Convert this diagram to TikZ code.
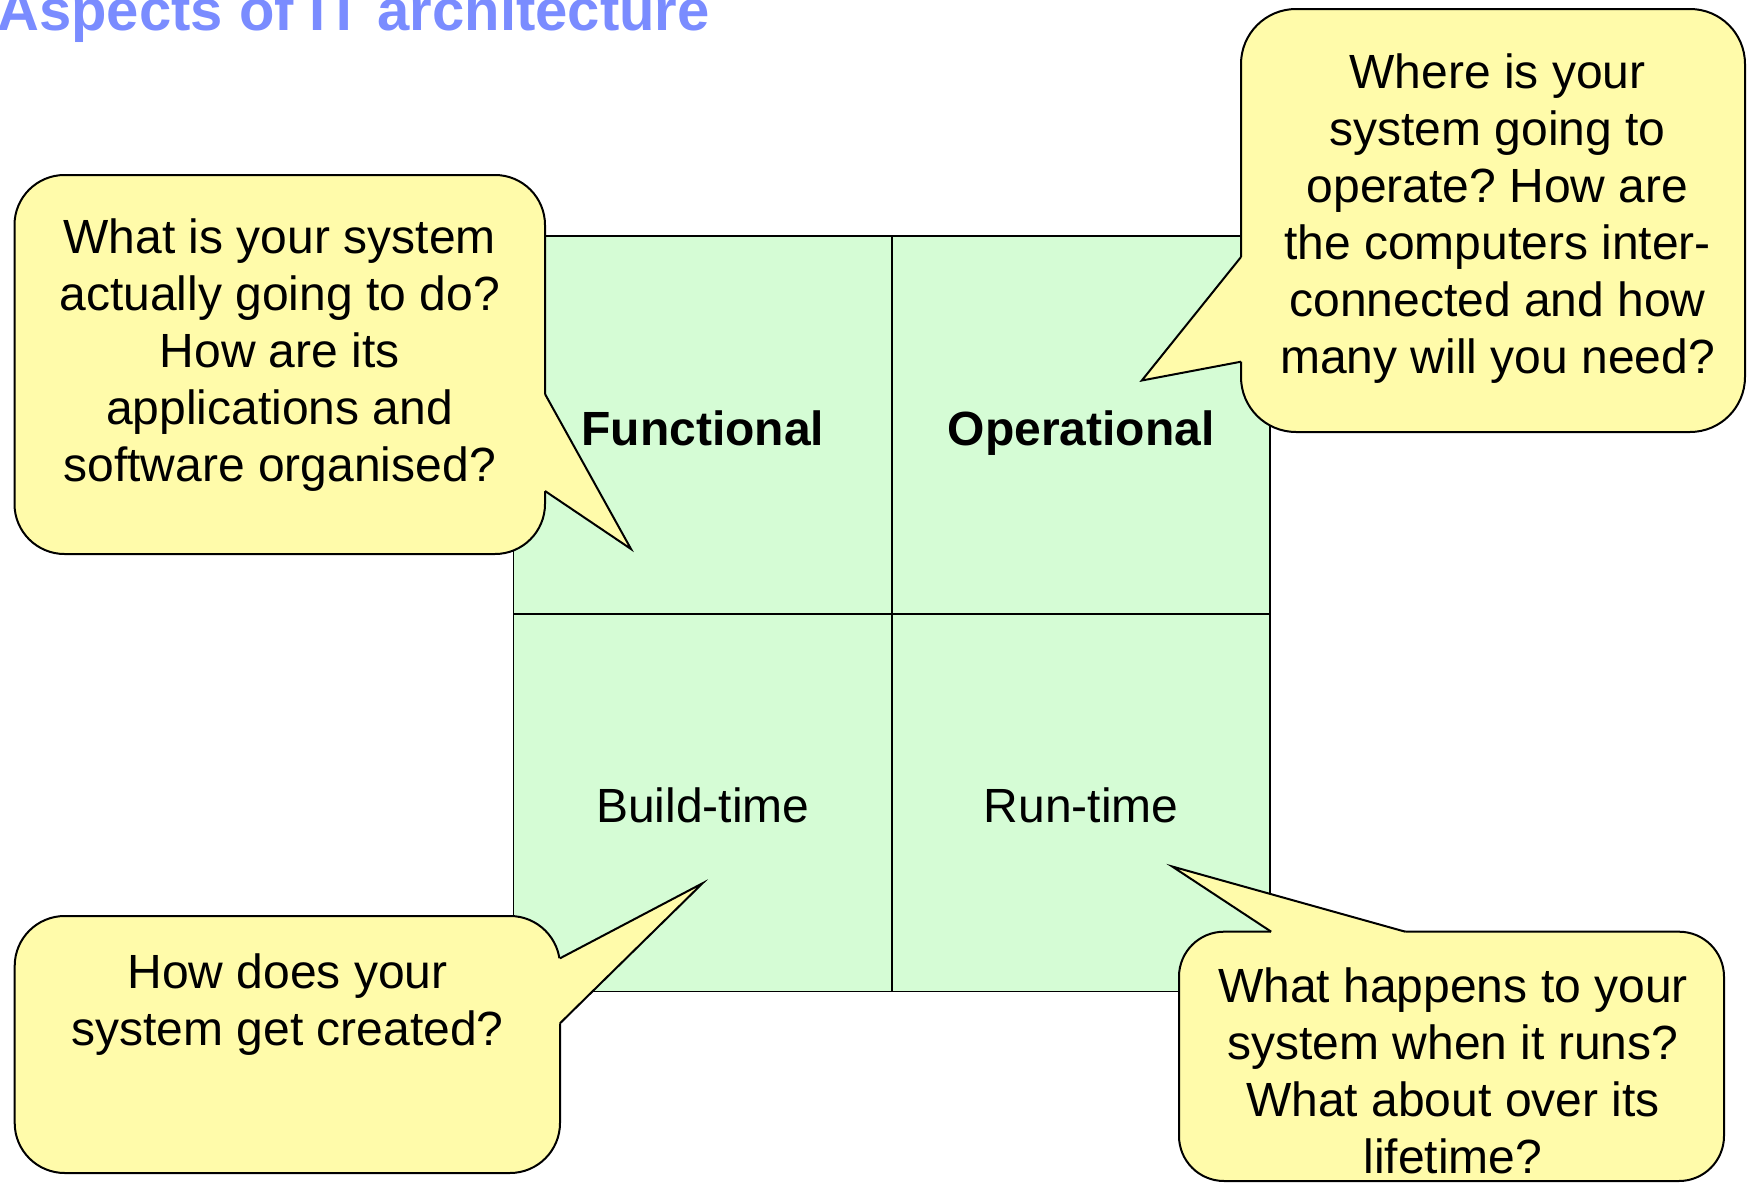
\documentclass[tikz,border=0pt]{standalone}
\usepackage{fontspec}
\setmainfont{Liberation Sans}
\definecolor{calloutfill}{RGB}{255,251,170}
\definecolor{cellfill}{RGB}{213,252,213}
\definecolor{titleblue}{RGB}{122,140,255}
\begin{document}
\frenchspacing
\begin{tikzpicture}[x=0.5pt,y=-0.5pt,
  cell/.style={draw=black,fill=cellfill,line width=0.75pt,minimum width=189.15pt,minimum height=188.85pt,inner sep=0pt,text height=20pt,text depth=0pt,font=\fontsize{24pt}{28.5pt}\selectfont},
  callout/.style={draw=black,fill=calloutfill,line width=1pt,inner sep=0pt},
  ptrfill/.style={fill=calloutfill},
  ptrline/.style={draw=black,line width=1pt,line join=miter},
  qtext/.style={align=center,inner sep=0pt,font=\fontsize{24pt}{28.5pt}\selectfont}]
\useasboundingbox (0,0) rectangle (1747,1183);
% title
\node[anchor=base west,inner sep=0pt,text=titleblue,font=\bfseries\fontsize{29pt}{34pt}\selectfont] (title) at (-3,31) {Aspects of IT architecture};
% grid
\node[cell] (fun) at (702.75,425.05) {\bfseries Functional};
\node[cell] (ope) at (1081.05,425.05) {\bfseries Operational};
\node[cell] (bui) at (702.75,802.75) {Build-time};
\node[cell] (run) at (1081.05,802.75) {Run-time};
% left callout
\node[callout,rounded corners=25pt,minimum width=265.25pt,minimum height=189.5pt] (c1) at (279.75,364.5) {};
\coordinate (c1a) at (545,394);
\coordinate (c1t) at (631,549);
\coordinate (c1b) at (545,491);
\fill[ptrfill] (540,394) -- (c1a) -- (c1t) -- (c1b) -- (540,491) -- cycle;
\draw[ptrline] (c1a) -- (c1t) -- (c1b);
% top right callout
\node[callout,rounded corners=27.5pt,minimum width=252pt,minimum height=211.5pt] (c2) at (1493,220.5) {};
\coordinate (c2a) at (1241,257);
\coordinate (c2t) at (1141.8,380.5);
\coordinate (c2b) at (1241,361.7);
\fill[ptrfill] (1246,257) -- (c2a) -- (c2t) -- (c2b) -- (1246,361.7) -- cycle;
\draw[ptrline] (c2a) -- (c2t) -- (c2b);
% bottom left callout
\node[callout,rounded corners=25pt,minimum width=272.65pt,minimum height=128.5pt] (c3) at (287.35,1044.5) {};
\coordinate (c3a) at (560,958.3);
\coordinate (c3t) at (702.5,883.3);
\coordinate (c3b) at (560,1023.3);
\fill[ptrfill] (555,958.3) -- (c3a) -- (c3t) -- (c3b) -- (555,1023.3) -- cycle;
\draw[ptrline] (c3a) -- (c3t) -- (c3b);
% bottom right callout
\node[callout,rounded corners=22.5pt,minimum width=272.5pt,minimum height=124.65pt] (c4) at (1451.5,1056.35) {};
\coordinate (c4a) at (1271.2,931.7);
\coordinate (c4t) at (1172.2,866.5);
\coordinate (c4b) at (1405.3,931.7);
\fill[ptrfill] (1271.2,936.7) -- (c4a) -- (c4t) -- (c4b) -- (1405.3,936.7) -- cycle;
\draw[ptrline] (c4a) -- (c4t) -- (c4b);
% texts
\node[qtext] (t1) at (279.7,355) {What is your system\\actually going to do?\\How are its\\applications and\\software organised?};
\node[qtext] (t2) at (1497.5,219) {Where is your\\system going to\\operate? How are\\the computers inter-\\connected and how\\many will you need?};
\node[qtext] (t3) at (287.5,1004.5) {How does your\\system get created?};
\node[qtext] (t4) at (1453,1071.2) {What happens to your\\system when it runs?\\What about over its\\lifetime?};
\end{tikzpicture}
\end{document}
